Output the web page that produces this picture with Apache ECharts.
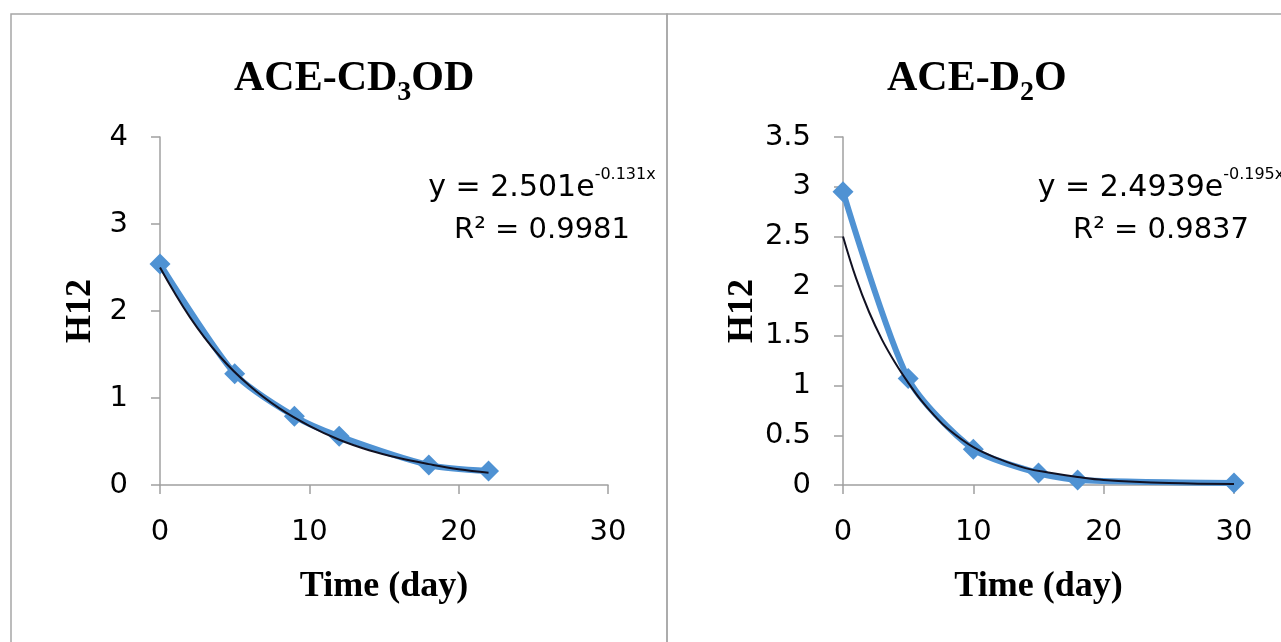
<!DOCTYPE html>
<html>
<head>
<meta charset="utf-8">
<script src="https://cdn.jsdelivr.net/npm/echarts@6/dist/echarts.min.js"></script>
<style>
html,body{margin:0;padding:0;background:#fff;}
#chart{width:1281px;height:642px;}
</style>
</head>
<body>
<div id="chart"></div>
<script>
// ---- Data ----
const xLeft = [0, 5, 9, 12, 18, 22];
const yLeft = [2.54, 1.28, 0.79, 0.56, 0.23, 0.16];
const trendXLeft = [0, 2, 4, 6, 8, 10, 12, 14, 16, 18, 20, 22];
const trendYLeft = [2.50, 1.93, 1.48, 1.14, 0.88, 0.68, 0.52, 0.40, 0.31, 0.24, 0.18, 0.14];

const xRight = [0, 5, 10, 15, 18, 30];
const yRight = [2.95, 1.07, 0.36, 0.12, 0.05, 0.02];
const trendXRight = [0, 1, 2, 3, 4, 5, 6, 7, 8, 10, 12, 14, 16, 18, 20, 25, 30];
const trendYRight = [2.50, 2.08, 1.74, 1.46, 1.23, 1.03, 0.85, 0.70, 0.57, 0.38, 0.26, 0.17, 0.12, 0.08, 0.05, 0.02, 0.01];

const xAxisRange = [0, 30, 10];          // min, max, interval (both panels)
const yAxisLeftRange = [0, 4, 1];
const yAxisRightRange = [0, 3.5, 0.5];

const titleLeft = ['ACE-CD', '3', 'OD'];
const titleRight = ['ACE-D', '2', 'O'];
const eqLeft = ['y = 2.501e', '-0.131x', 'R² = 0.9981'];
const eqRight = ['y = 2.4939e', '-0.195x', 'R² = 0.9837'];
const xName = 'Time (day)';
const yName = 'H12';

// ---- Styles ----
const BLUE = '#4f92d3';
const AXIS = '#a0a0a0';
const SANS = 'DejaVu Sans';
const SERIF = 'Liberation Serif';

function zip(xs, ys) { return xs.map((x, i) => [x, ys[i]]); }

function titleRich() {
  return {
    a: { fontFamily: SERIF, fontWeight: 'bold', fontSize: 42, color: '#000', lineHeight: 46, verticalAlign: 'top' },
    s: { fontFamily: SERIF, fontWeight: 'bold', fontSize: 28, color: '#000', lineHeight: 26, verticalAlign: 'top', padding: [21, 0, 0, 0] }
  };
}
const eqRich1 = {
  m: { fontFamily: SANS, fontSize: 30, color: '#000', lineHeight: 36, verticalAlign: 'bottom' },
  p: { fontFamily: SANS, fontSize: 16, color: '#000', lineHeight: 18, verticalAlign: 'top' }
};

function xAxisCfg(gridIndex) {
  return {
    type: 'value', gridIndex: gridIndex,
    min: xAxisRange[0], max: xAxisRange[1], interval: xAxisRange[2],
    name: xName, nameLocation: 'middle', nameGap: 84,
    nameTextStyle: { fontFamily: SERIF, fontWeight: 'bold', fontSize: 36, color: '#000' },
    axisLine: { show: true, onZero: false, lineStyle: { color: AXIS, width: 1.5 } },
    axisTick: { show: true, inside: false, length: 9, lineStyle: { color: AXIS, width: 1.5 } },
    axisLabel: { fontFamily: SANS, fontSize: 29, color: '#000', margin: 33 },
    splitLine: { show: false }
  };
}
function yAxisCfg(gridIndex, range) {
  return {
    type: 'value', gridIndex: gridIndex,
    min: range[0], max: range[1], interval: range[2],
    name: yName, nameLocation: 'middle', nameGap: 61,
    nameTextStyle: { fontFamily: SERIF, fontWeight: 'bold', fontSize: 36, color: '#000' },
    axisLine: { show: true, onZero: false, lineStyle: { color: AXIS, width: 1.5 } },
    axisTick: { show: true, inside: false, length: 9, lineStyle: { color: AXIS, width: 1.5 } },
    axisLabel: { fontFamily: SANS, fontSize: 29, color: '#000', margin: 32 },
    splitLine: { show: false }
  };
}
function dataSeries(idx, data) {
  return {
    type: 'line', xAxisIndex: idx, yAxisIndex: idx, data: data,
    smooth: 0.25, symbol: 'diamond', symbolSize: 21, showSymbol: true,
    lineStyle: { color: BLUE, width: 6 }, itemStyle: { color: BLUE },
    z: 2, silent: true, animation: false
  };
}
function trendSeries(idx, data) {
  return {
    type: 'line', xAxisIndex: idx, yAxisIndex: idx, data: data,
    smooth: 0.4, symbol: 'none',
    lineStyle: { color: '#111122', width: 2 },
    z: 3, silent: true, animation: false
  };
}

const chart = echarts.init(document.getElementById('chart'), null, { renderer: 'canvas' });
const option = {
  backgroundColor: '#fff',
  animation: false,
  title: [
    { text: '{a|' + titleLeft[0] + '}{s|' + titleLeft[1] + '}{a|' + titleLeft[2] + '}', left: 234, top: 58, padding: 0,
      textStyle: { rich: titleRich() } },
    { text: '{a|' + titleRight[0] + '}{s|' + titleRight[1] + '}{a|' + titleRight[2] + '}', left: 887, top: 58, padding: 0,
      textStyle: { rich: titleRich() } }
  ],
  grid: [
    { left: 160, top: 137, width: 448, height: 348, containLabel: false },
    { left: 843, top: 137, width: 391, height: 348, containLabel: false }
  ],
  xAxis: [xAxisCfg(0), xAxisCfg(1)],
  yAxis: [yAxisCfg(0, yAxisLeftRange), yAxisCfg(1, yAxisRightRange)],
  series: [
    dataSeries(0, zip(xLeft, yLeft)),
    trendSeries(0, zip(trendXLeft, trendYLeft)),
    dataSeries(1, zip(xRight, yRight)),
    trendSeries(1, zip(trendXRight, trendYRight))
  ],
  graphic: [
    { type: 'rect', shape: { x: 11, y: 14, width: 656, height: 700 }, style: { fill: null, stroke: '#a6a6a6', lineWidth: 1.5 }, silent: true, z: -1 },
    { type: 'rect', shape: { x: 667, y: 14, width: 700, height: 700 }, style: { fill: null, stroke: '#a6a6a6', lineWidth: 1.5 }, silent: true, z: -1 },
    { type: 'text', x: 542, y: 167, silent: true,
      style: { text: '{m|' + eqLeft[0] + '}{p|' + eqLeft[1] + '}', rich: eqRich1, align: 'center', verticalAlign: 'top' } },
    { type: 'text', x: 542, y: 212, silent: true,
      style: { text: eqLeft[2], fontFamily: SANS, fontSize: 29, fill: '#000', align: 'center', verticalAlign: 'top', lineHeight: 36 } },
    { type: 'text', x: 1161, y: 167, silent: true,
      style: { text: '{m|' + eqRight[0] + '}{p|' + eqRight[1] + '}', rich: eqRich1, align: 'center', verticalAlign: 'top' } },
    { type: 'text', x: 1161, y: 212, silent: true,
      style: { text: eqRight[2], fontFamily: SANS, fontSize: 29, fill: '#000', align: 'center', verticalAlign: 'top', lineHeight: 36 } }
  ]
};
chart.setOption(option);
</script>
</body>
</html>
